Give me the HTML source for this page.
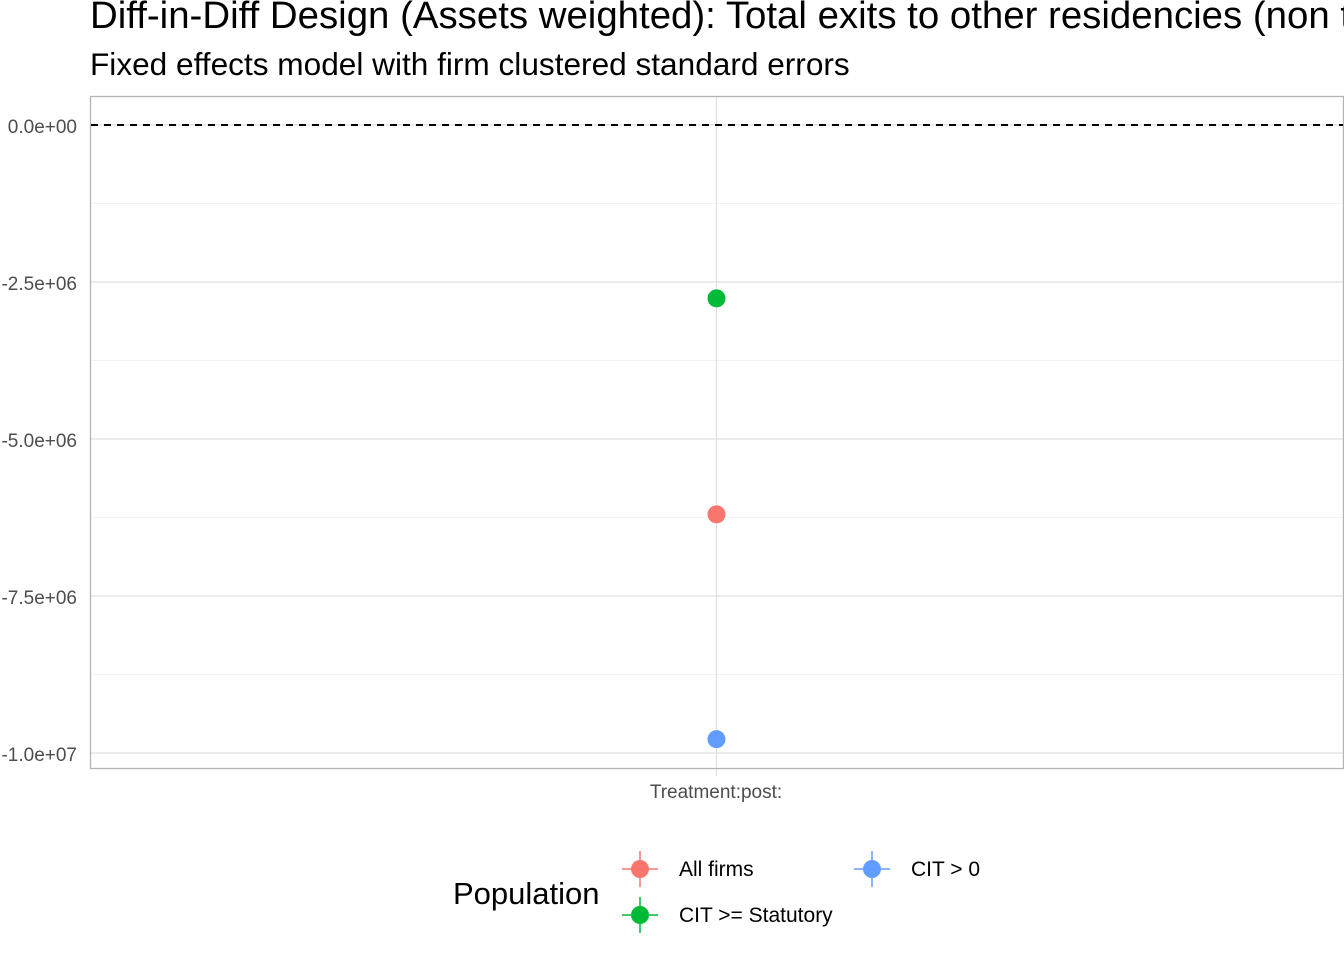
<!DOCTYPE html>
<html><head><meta charset="utf-8"><style>
body{margin:0;background:#fff;width:1344px;height:960px;overflow:hidden;font-family:"Liberation Sans",Arial,sans-serif}
</style></head><body>
<svg id="chart" width="1344" height="960" xmlns="http://www.w3.org/2000/svg">
<text x="90" y="28" font-size="38.4" fill="#000">Diff-in-Diff Design (Assets weighted): Total exits to other residencies (non tax havens)</text>
<text x="90" y="75" font-size="31.6" fill="#000">Fixed effects model with firm clustered standard errors</text>
<g id="grid"></g>
<rect x="90.5" y="96.5" width="1253" height="672" fill="none" stroke="#b3b3b3" stroke-width="1.3"/>
<g id="marks"></g>
<text x="716" y="798" font-size="19" fill="#4d4d4d" text-anchor="middle">Treatment:post:</text>
<text x="453" y="904" font-size="31" fill="#000">Population</text>
<g id="legend"></g>
</svg>
<script>
const categories = ["All firms","CIT >= Statutory","CIT > 0"];
const estimates = [-6.2e6,-2.76e6,-9.78e6];
const colors = ["#F8766D","#00BA38","#619CFF"];
const yTicks = [0,-2.5e6,-5e6,-7.5e6,-1e7];
const yTickLabels = ["0.0e+00","-2.5e+06","-5.0e+06","-7.5e+06","-1.0e+07"];
const ns="http://www.w3.org/2000/svg";
function y(v){return 125+(-v)*(753-125)/1e7;}
const xc=716.5;
function mk(tag,attrs,parent){const e=document.createElementNS(ns,tag);for(const k in attrs)e.setAttribute(k,attrs[k]);parent.appendChild(e);return e;}
const grid=document.getElementById('grid'),marks=document.getElementById('marks'),legend=document.getElementById('legend'),svg=document.getElementById('chart');
for(let i=0;i<yTicks.length;i++){
  const yy=y(yTicks[i]);
  const l=mk('line',{x1:91,x2:1343,y1:yy,y2:yy,stroke:'#e0e0e0','stroke-width':1.2},grid);
  
  
  if(i<yTicks.length-1){const ym=y((yTicks[i]+yTicks[i+1])/2);
    const m=mk('line',{x1:91,x2:1343,y1:ym,y2:ym,stroke:'#ececec','stroke-width':0.8},grid);
    
    }
  const t=mk('text',{x:77,y:yy+8,'font-size':19,fill:'#4d4d4d','text-anchor':'end'},svg);
  t.textContent=yTickLabels[i];
  
  
}
const vl=mk('line',{x1:xc,x2:xc,y1:97,y2:776,stroke:'#e0e0e0','stroke-width':1.2},grid);


const z=mk('line',{x1:91,x2:1343,y1:y(0),y2:y(0),stroke:'#000','stroke-width':2,'stroke-dasharray':'7,6'},marks);


for(let i=0;i<categories.length;i++){
  const c=mk('circle',{cx:xc,cy:y(estimates[i]),r:9,fill:colors[i]},marks);
  
  
}
const lpos=[[640,869],[640,915],[872,869]];
for(let i=0;i<categories.length;i++){
  const [lx,ly]=lpos[i];
  const g=mk('g',{},legend);
  
  
  mk('line',{x1:lx-18,x2:lx+18,y1:ly,y2:ly,stroke:colors[i],'stroke-width':1.5},g);
  mk('line',{x1:lx,x2:lx,y1:ly-18,y2:ly+18,stroke:colors[i],'stroke-width':1.5},g);
  mk('circle',{cx:lx,cy:ly,r:9,fill:colors[i]},g);
  const t=mk('text',{x:lx+39,y:ly+7,'font-size':21,fill:'#000'},g);
  t.textContent=categories[i];
}
</script>
</body></html>
